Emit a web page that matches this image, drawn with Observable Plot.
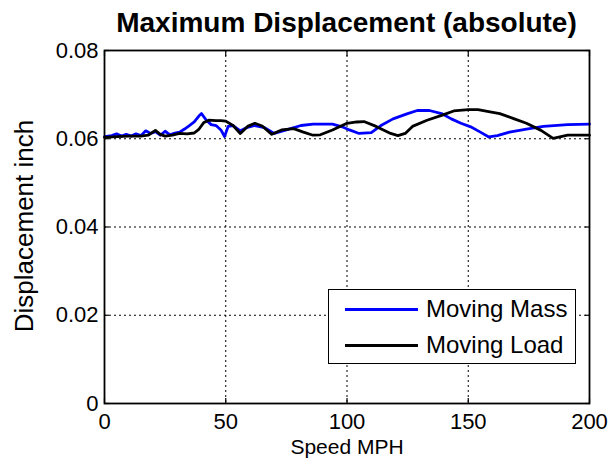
<!DOCTYPE html>
<html><head><meta charset="utf-8">
<script src="https://cdn.jsdelivr.net/npm/d3@7"></script>
<script src="https://cdn.jsdelivr.net/npm/@observablehq/plot@0.6"></script>
<style>
body{margin:0;background:#fff;font-family:"Liberation Sans",Arial,sans-serif;}
#wrap{position:relative;width:611px;height:467px;overflow:hidden;}
#title{position:relative;height:30px;}
#title span{position:absolute;left:84px;width:525px;top:9px;text-align:center;font-weight:bold;font-size:28px;line-height:28px;white-space:nowrap;}
#legend{position:absolute;left:328px;top:289px;width:246px;height:73px;border:1.5px solid #000;background:#fff;}
#legend .row{position:absolute;left:0;height:30px;display:flex;align-items:center;}
#legend .sw{width:73px;height:3px;margin-left:16px;margin-right:8px;}
#legend .lab{font-size:24px;line-height:30px;white-space:nowrap;}
</style></head><body>
<div id="wrap">
<div id="title"><span>Maximum Displacement (absolute)</span></div>
<div id="chart"></div>
<div id="legend"></div>
</div>
<script>
const seriesNames = ["Moving Mass", "Moving Load"];
const seriesColors = ["#0000ff", "#000000"];
const xTicks = [0, 50, 100, 150, 200];
const yTicks = [0, 0.02, 0.04, 0.06, 0.08];

const massSpeed = [0,3,5,7,9,11,13,15,17,19,21,23,25,27,29,31,33,35,37,39,40,42,44,46,48,49.5,51,53,56,59,62,66,70,75,81,86,94,98,101,105,110,114,119,125,129,134,139,143,147,151,155,158.5,162,167,174,181,191,200];
const massDisp = [0.0605,0.0607,0.0611,0.0606,0.0610,0.0606,0.0611,0.0607,0.0618,0.0612,0.0616,0.0608,0.0617,0.0609,0.0613,0.0615,0.0622,0.0630,0.0638,0.0652,0.0657,0.0642,0.0632,0.0630,0.0620,0.0605,0.0628,0.0630,0.0618,0.0626,0.0630,0.0625,0.0612,0.0620,0.0630,0.0633,0.0633,0.0627,0.0620,0.0612,0.0614,0.0630,0.0645,0.0657,0.0664,0.0664,0.0657,0.0645,0.0635,0.0627,0.0615,0.0604,0.0607,0.0615,0.0622,0.0628,0.0632,0.0633];

const loadSpeed = [0,5,10,15,18,21,23,25,28,31,34,37,39,41,43,46,48,50,53,56,59,62,65,69,73,78,82,86,89,94,100,104,107,112,118,121,124,127,133,139,144,150,154,159,163,169,174,180,185,191,200];
const loadDisp = [0.0603,0.0605,0.0606,0.0606,0.0608,0.0619,0.0610,0.0606,0.0608,0.0612,0.0611,0.0613,0.0622,0.0637,0.0642,0.0641,0.0641,0.0640,0.0630,0.0612,0.0628,0.0635,0.0629,0.0610,0.0620,0.0623,0.0615,0.0608,0.0609,0.0620,0.0635,0.0638,0.0639,0.0628,0.0612,0.0607,0.0612,0.0628,0.0642,0.0653,0.0663,0.0666,0.0666,0.0661,0.0657,0.0645,0.0635,0.0619,0.0601,0.0608,0.0608];

const data = [
  ...massSpeed.map((s, i) => ({speed: s, disp: massDisp[i], series: seriesNames[0]})),
  ...loadSpeed.map((s, i) => ({speed: s, disp: loadDisp[i], series: seriesNames[1]}))
];

const yFmt = d => d === 0 ? "0" : d.toFixed(2);
const gridStyle = {stroke: "#000", strokeOpacity: 1, strokeWidth: 1, strokeDasharray: "2,3"};

const chart = Plot.plot({
  width: 611, height: 437,
  marginTop: 20, marginBottom: 64, marginLeft: 104, marginRight: 22,
  style: {fontFamily: "'Liberation Sans', Arial, sans-serif", fontSize: "22px", color: "#000", background: "#fff", overflow: "visible"},
  x: {domain: [0, 200]},
  y: {domain: [0, 0.08]},
  color: {domain: seriesNames, range: seriesColors},
  marks: [
    Plot.gridX(xTicks.slice(1, -1), gridStyle),
    Plot.gridY(yTicks.slice(1, -1), gridStyle),
    Plot.line(data, {x: "speed", y: "disp", z: "series", stroke: "series", strokeWidth: 2.8}),
    Plot.axisX(xTicks, {anchor: "bottom", tickSize: -5, tickPadding: 15, label: null, strokeWidth: 1.2}),
    Plot.axisX(xTicks, {anchor: "top", tickSize: -5, tickFormat: () => "", label: null, strokeWidth: 1.2}),
    Plot.axisY(yTicks, {anchor: "left", tickSize: -5, tickPadding: 11, tickFormat: yFmt, label: null, strokeWidth: 1.2}),
    Plot.axisY(yTicks, {anchor: "right", tickSize: -5, tickFormat: () => "", label: null, strokeWidth: 1.2}),
    Plot.text(["Speed MPH"], {text: d => d, frameAnchor: "bottom", textAnchor: "middle", lineAnchor: "middle", dy: 44, fontSize: 21}),
    Plot.text(["Displacement inch"], {text: d => d, frameAnchor: "left", textAnchor: "middle", lineAnchor: "middle", dx: -80, dy: -1, rotate: -90, fontSize: 26}),
    Plot.frame({stroke: "#000", strokeWidth: 1.8})
  ]
});
document.getElementById("chart").appendChild(chart);

const leg = document.getElementById("legend");
seriesNames.forEach((n, i) => {
  const row = document.createElement("div");
  row.className = "row";
  row.style.top = (i === 0 ? 4 : 40) + "px";
  row.innerHTML = `<div class="sw" style="background:${seriesColors[i]}"></div><div class="lab">${n}</div>`;
  leg.appendChild(row);
});
</script>
</body></html>
